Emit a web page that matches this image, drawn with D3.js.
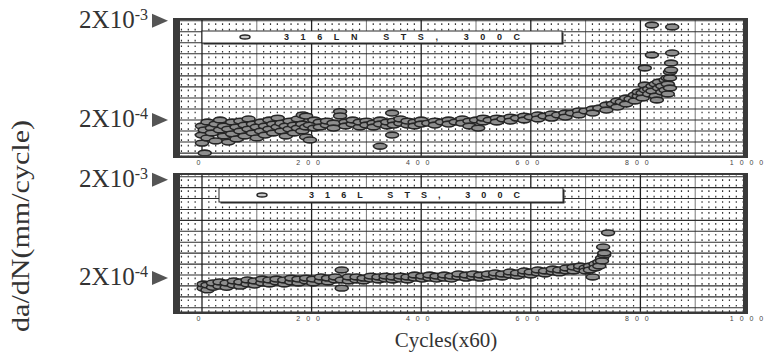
<!DOCTYPE html>
<html>
<head>
<meta charset="utf-8">
<script src="https://cdn.jsdelivr.net/npm/d3@7"></script>
<style>
  html, body { margin: 0; padding: 0; background: #fff; }
  svg { display: block; }
</style>
</head>
<body>
<svg id="chart" width="768" height="360"></svg>
<script>
// Fatigue crack growth rate da/dN versus cycles (x60) for two stainless steels at 300C.
// Rates are stored in units of 1e-4 mm/cycle.
const cycleTicks = [0, 200, 400, 600, 800, 1000];
const rateTicks = [2e-3, 2e-4];
const seriesNames = ["316LN STS, 300C", "316L STS, 300C"];

const ln316 = [
  [0,1.41],[0,1.74],[0,1.17],[5,0.93],[5,1.59],[10,1.91],[10,1.32],[18,1.66],[18,1.48],
  [25,1.82],[25,1.23],[33,1.59],[33,2.0],[40,1.38],[40,1.74],[48,1.20],[48,1.62],
  [55,1.91],[55,1.45],[63,1.70],[63,1.29],[70,1.55],[70,1.95],[78,1.78],[78,1.38],
  [85,1.62],[85,2.05],[93,1.48],[93,1.82],[100,1.70],[100,1.32],[108,1.91],[108,1.55],
  [115,1.74],[115,1.41],[123,2.0],[123,1.62],[130,1.48],[130,1.82],[138,1.70],[138,2.09],
  [145,1.55],[145,1.86],[153,1.74],[153,1.38],[160,1.95],[160,1.62],[168,1.78],[168,1.48],
  [175,2.05],[175,1.66],[183,1.82],[183,1.55],[184,2.25],[190,2.19],[190,1.70],[190,1.35],
  [197,1.26],[197,1.78],[205,2.0],[205,1.66],[215,1.91],[215,1.70],[228,1.78],[228,1.95],
  [240,1.86],[240,1.66],[252,2.43],[252,2.20],[262,1.91],[262,1.74],[275,1.82],[275,2.0],
  [288,1.70],[288,1.91],[300,1.95],[300,1.78],[313,1.86],[313,1.70],[325,2.0],[325,1.82],
  [325,1.09],[338,1.74],[338,1.91],[347,2.35],[347,1.41],[350,1.95],[350,1.78],
  [362,1.86],[362,2.05],[375,1.78],[375,1.95],[388,1.91],[388,1.74],[400,2.0],[400,1.82],
  [413,1.86],[425,1.95],[425,1.78],[438,1.91],[450,2.0],[450,1.82],[463,1.91],
  [475,2.05],[475,1.86],[488,1.95],[488,1.74],[500,2.0],[504,1.66],[513,1.91],[513,2.09],
  [525,2.0],[538,2.09],[538,1.91],[550,2.05],[563,2.14],[563,1.95],[575,2.09],
  [588,2.19],[588,2.0],[600,2.14],[613,2.25],[613,2.05],[625,2.19],[638,2.30],[638,2.09],
  [650,2.25],[663,2.35],[663,2.14],[675,2.35],[688,2.47],[688,2.25],[700,2.47],
  [713,2.58],[713,2.35],[725,2.64],[738,2.83],[738,2.52],[750,2.90],[758,3.11],[758,2.70],
  [766,3.04],[774,3.33],[774,2.90],[782,3.26],[790,3.57],[790,3.11],[797,3.49],[797,3.83],
  [804,3.74],[804,3.33],[808,4.50],[808,6.68],[810,4.01],[816,4.10],[816,3.66],
  [821,9.03],[821,18.1],[822,4.40],[822,3.92],[828,4.61],[828,3.49],[830,3.18],
  [834,4.20],[834,4.83],[840,4.40],[840,3.83],[846,5.06],[846,4.01],
  [850,4.61],[850,5.30],[850,3.66],[854,5.30],[854,6.08],[854,4.20],
  [856,6.38],[856,7.50],[858,9.47],[858,17.3]
];

const l316 = [
  [3,1.47],[3,1.62],[10,1.41],[10,1.58],[20,1.50],[20,1.66],[32,1.54],[32,1.70],
  [45,1.50],[45,1.66],[58,1.58],[58,1.74],[70,1.54],[70,1.70],[83,1.62],[83,1.78],
  [96,1.58],[96,1.74],[110,1.66],[110,1.82],[123,1.62],[123,1.78],[136,1.70],[136,1.82],
  [150,1.62],[150,1.78],[163,1.70],[163,1.86],[176,1.66],[176,1.82],[190,1.74],[190,1.86],
  [203,1.66],[203,1.82],[217,1.74],[217,1.91],[230,1.70],[230,1.86],[243,1.78],[243,1.91],
  [255,2.25],[255,1.47],[255,1.78],[268,1.74],[268,1.91],[282,1.78],[282,1.91],
  [295,1.74],[295,1.86],[308,1.82],[308,1.95],[322,1.78],[322,1.91],[335,1.82],[335,1.95],
  [348,1.78],[348,1.91],[362,1.82],[362,1.95],[375,1.78],[375,1.91],[388,1.86],[388,2.0],
  [402,1.82],[402,1.95],[415,1.86],[415,2.0],[428,1.82],[428,1.95],[442,1.86],[442,2.0],
  [455,1.82],[455,1.95],[468,1.91],[468,2.05],[482,1.86],[482,2.0],[495,1.91],[495,2.05],
  [508,1.86],[508,2.0],[522,1.91],[522,2.05],[535,1.95],[535,2.10],[548,1.91],[548,2.05],
  [562,2.0],[562,2.15],[575,1.95],[575,2.10],[588,2.05],[588,2.20],[600,2.0],[600,2.15],
  [613,2.10],[613,2.25],[626,2.05],[626,2.20],[640,2.15],[640,2.30],[652,2.10],[652,2.25],
  [665,2.20],[665,2.36],[678,2.20],[678,2.41],[690,2.30],[690,2.47],[700,2.36],[700,2.20],
  [708,2.47],[708,2.25],[713,1.91],[718,2.59],[718,2.36],[725,2.71],[725,2.47],
  [730,2.98],[730,2.78],[734,3.20],[734,3.35],[732,3.86],[741,5.37]
];

// ---- layout ----
const panels = [
  { data: ln316, name: seriesNames[0], top: 18, bottom: 158, yHi: 20.7, yLo: 120,
    legend: { x0: 202, x1: 562, y0: 31, y1: 43, mark: 245, t0: 284, t1: 520 },
    tickY: 163, arrowNudge: 0 },
  { data: l316, name: seriesNames[1], top: 173, bottom: 314, yHi: 176.7, yLo: 275,
    legend: { x0: 219, x1: 563, y0: 188, y1: 202, mark: 262, t0: 309, t1: 520 },
    tickY: 319, arrowNudge: 3 }
];
const frameL = 173, frameR = 748, innerL = 180, innerR = 743;
const rowsPerDecade = 9;
const ink = "#262626";

const svg = d3.select("#chart");
const defs = svg.append("defs");
const x = d3.scaleLinear().domain([0, 1000]).range([202, 750]);

panels.forEach((p, i) => {
  const y = d3.scaleLog().domain([2e-4, 2e-3]).range([p.yLo, p.yHi]);
  const rowH = (p.yLo - p.yHi) / rowsPerDecade;
  const g = svg.append("g");

  g.append("rect").attr("x", frameL).attr("y", p.top)
    .attr("width", frameR - frameL).attr("height", p.bottom - p.top).attr("fill", "#fff");

  defs.append("clipPath").attr("id", "plot-clip-" + i)
    .append("rect").attr("x", innerL).attr("y", p.top + 2)
    .attr("width", innerR - innerL).attr("height", p.bottom - p.top - 4);
  const inner = g.append("g").attr("clip-path", `url(#plot-clip-${i})`);

  // dotted minor columns
  const minor = d3.range(-37.5, 1000, 12.5).filter(v => v % 100 !== 0);
  inner.selectAll("line.minor").data(minor).join("line").attr("class", "minor")
    .attr("x1", d => x(d)).attr("x2", d => x(d))
    .attr("y1", p.yHi + 2.6 - rowH * 2).attr("y2", p.bottom)
    .attr("stroke", "#333").attr("stroke-width", 1.2)
    .attr("stroke-dasharray", `1.7,${(rowH / 2 - 1.7).toFixed(2)}`);

  // lighter lines every 100 cycles
  const mid = d3.range(100, 1000, 200);
  inner.selectAll("line.mid").data(mid).join("line").attr("class", "mid")
    .attr("x1", d => x(d)).attr("x2", d => x(d))
    .attr("y1", p.top).attr("y2", p.bottom)
    .attr("stroke", "#777").attr("stroke-width", 1);

  // horizontal rows: nine per decade on the log axis
  const rows = d3.range(0, 13).map(k => 2e-3 * Math.pow(10, -k / rowsPerDecade));
  inner.selectAll("line.row").data(rows).join("line").attr("class", "row")
    .attr("x1", innerL).attr("x2", innerR)
    .attr("y1", d => y(d)).attr("y2", d => y(d))
    .attr("stroke", "#2e2e2e").attr("stroke-width", 1.1);

  // heavy lines every 200 cycles
  const major = d3.range(0, 1000, 200);
  inner.selectAll("line.major").data(major).join("line").attr("class", "major")
    .attr("x1", d => x(d)).attr("x2", d => x(d))
    .attr("y1", p.top).attr("y2", p.bottom)
    .attr("stroke", "#222").attr("stroke-width", 1.3);

  // legend box
  const L = p.legend;
  g.append("rect").attr("x", L.x0 + 1.5).attr("y", L.y0 + 1.5)
    .attr("width", L.x1 - L.x0).attr("height", L.y1 - L.y0).attr("fill", "#2a2a2a");
  g.append("rect").attr("x", L.x0).attr("y", L.y0)
    .attr("width", L.x1 - L.x0).attr("height", L.y1 - L.y0)
    .attr("fill", "#fff").attr("stroke", "#2a2a2a").attr("stroke-width", 1);
  const ly = (L.y0 + L.y1) / 2;
  g.append("ellipse").attr("cx", L.mark).attr("cy", ly).attr("rx", 5).attr("ry", 2)
    .attr("fill", "#c8c8c8").attr("stroke", ink).attr("stroke-width", 1.5);
  g.append("text").attr("x", L.t0).attr("y", ly).attr("dy", "0.36em")
    .attr("textLength", L.t1 - L.t0).attr("lengthAdjust", "spacing")
    .attr("font-family", "Liberation Sans, Arial, sans-serif").attr("font-weight", "bold")
    .attr("font-size", 9).attr("fill", "#222").text(p.name);

  // data markers
  inner.append("g").selectAll("ellipse").data(p.data).join("ellipse")
    .attr("cx", d => x(d[0])).attr("cy", d => y(d[1] * 1e-4))
    .attr("rx", 6.5).attr("ry", 2.9)
    .attr("fill", "#8e8e8e").attr("stroke", ink).attr("stroke-width", 1.6);

  // frame
  g.append("rect").attr("x", frameL).attr("y", p.top).attr("width", innerL - frameL)
    .attr("height", p.bottom - p.top).attr("fill", "#3a3a3a");
  g.append("rect").attr("x", innerR).attr("y", p.top).attr("width", frameR - innerR)
    .attr("height", p.bottom - p.top).attr("fill", "#3a3a3a");
  g.append("rect").attr("x", frameL).attr("y", p.top).attr("width", frameR - frameL)
    .attr("height", 2).attr("fill", "#3a3a3a");
  g.append("rect").attr("x", frameL).attr("y", p.bottom - 2.5).attr("width", frameR - frameL)
    .attr("height", 2.5).attr("fill", "#3a3a3a");

  // cycle tick labels
  const axis = d3.axisBottom(x).tickValues(cycleTicks).tickSize(0)
    .tickFormat(d => String(d).split("").join(" "));
  const ax = svg.append("g").attr("transform", `translate(-3,${p.tickY})`).call(axis);
  ax.select(".domain").remove();
  ax.selectAll("text").attr("y", 0).attr("dy", "0.35em")
    .attr("font-family", "Liberation Sans, Arial, sans-serif").attr("font-size", 7)
    .attr("letter-spacing", 2).attr("fill", "#444");

  // rate labels with pointer arrows
  rateTicks.forEach(t => {
    const ay = y(t) + p.arrowNudge;
    const exp = Math.floor(Math.log10(t) + 1e-9);
    const mant = Math.round(t / Math.pow(10, exp));
    const tx = svg.append("text").attr("x", 148).attr("y", ay + 7)
      .attr("text-anchor", "end").attr("font-family", "Liberation Serif, Times New Roman, serif")
      .attr("fill", "#333");
    tx.append("tspan").attr("font-size", 25).text(`${mant}X10`);
    tx.append("tspan").attr("font-size", 16).attr("dy", -8).text(`${exp}`);
    svg.append("path")
      .attr("d", `M152,${ay - 7}L168,${ay}L152,${ay + 7}Z`)
      .attr("fill", "#555");
  });
});

// axis titles
svg.append("text")
  .attr("transform", "translate(29,226) rotate(-90)")
  .attr("text-anchor", "middle")
  .attr("font-family", "Liberation Serif, Times New Roman, serif")
  .attr("font-size", 25).attr("fill", "#333")
  .attr("textLength", 212).attr("lengthAdjust", "spacingAndGlyphs")
  .text("da/dN(mm/cycle)");

svg.append("text")
  .attr("x", 446).attr("y", 347).attr("text-anchor", "middle")
  .attr("font-family", "Liberation Serif, Times New Roman, serif")
  .attr("font-size", 21).attr("fill", "#333")
  .text("Cycles(x60)");
</script>
</body>
</html>
